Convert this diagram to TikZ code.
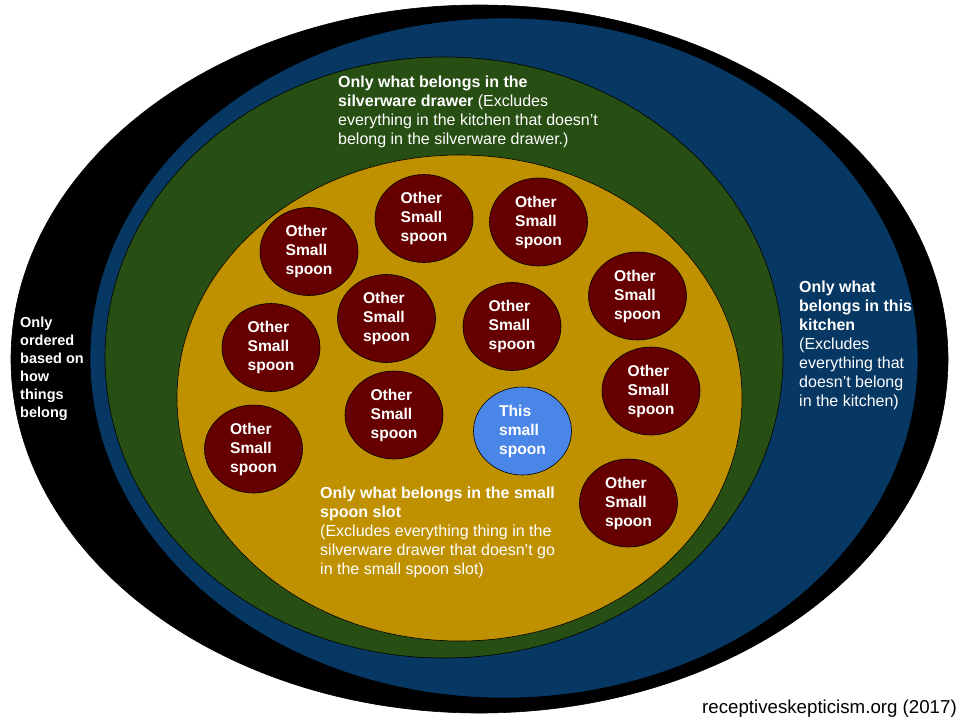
\documentclass[tikz,border=0pt]{standalone}
\usepackage{fontspec}
\setmainfont{Liberation Sans}
\usetikzlibrary{shapes.geometric}
\definecolor{roomblack}{HTML}{000000}
\definecolor{kitchenblue}{HTML}{073763}
\definecolor{drawergreen}{HTML}{274E13}
\definecolor{slotgold}{HTML}{BF9000}
\definecolor{spoonred}{HTML}{660000}
\definecolor{thisblue}{HTML}{4A86E8}
\tikzset{
	spoon/.style={ellipse, draw=black, line width=0.6pt, fill=spoonred, minimum width=98pt, minimum height=88pt, inner sep=0pt, text=white, align=left, font=\fontsize{15.6}{19}\selectfont\bfseries},
	note/.style={anchor=north west, inner sep=0pt, text=white, align=left, font=\fontsize{16}{19}\selectfont}
}

\begin{document}
\begin{tikzpicture}[x=1pt, y=-1pt]
			%%%%% START %%%%%
			
			\fill[white] (0, 0) rectangle (960, 720);
			\useasboundingbox (0, 0) rectangle (960, 720);
			
			\draw[line width=0.6pt, fill=roomblack] (479.5, 359) ellipse [x radius=468.5pt, y radius=354pt];
			\draw[line width=0.6pt, fill=kitchenblue] (504, 358) ellipse [x radius=414pt, y radius=340pt];
			\draw[line width=0.6pt, fill=drawergreen] (444, 357.5) ellipse [x radius=339pt, y radius=300.5pt];
			\draw[line width=0.6pt, fill=slotgold] (459.5, 398) ellipse [x radius=282.5pt, y radius=243pt];
			
			\node[note, font=\fontsize{14.5}{18}\selectfont\bfseries] (order) at (20, 316.5) {Only\\ordered\\based on\\how\\things\\belong};
			
			\node[note] (kitchen) at (799, 281) {\textbf{Only what}\\\textbf{belongs in this}\\\textbf{kitchen}\\(Excludes\\everything that\\doesn’t belong\\in the kitchen)};
			
			\node[note] (drawer) at (338, 76) {\textbf{Only what belongs in the}\\\textbf{silverware drawer} (Excludes\\everything in the kitchen that doesn’t\\belong in the silverware drawer.)};
			
			\node[note] (slot) at (320, 487) {\textbf{Only what belongs in the small}\\\textbf{spoon slot}\\(Excludes everything thing in the\\silverware drawer that doesn’t go\\in the small spoon slot)};
			
			\node[spoon] (o1) at (309, 251.5) {Other\\Small\\spoon};
			\node[spoon] (o2) at (424, 218.5) {Other\\Small\\spoon};
			\node[spoon] (o3) at (538.5, 222) {Other\\Small\\spoon};
			\node[spoon] (o4) at (637.5, 296) {Other\\Small\\spoon};
			\node[spoon] (o5) at (386.5, 318.5) {Other\\Small\\spoon};
			\node[spoon] (o6) at (512, 326.5) {Other\\Small\\spoon};
			\node[spoon] (o7) at (271, 347.5) {Other\\Small\\spoon};
			\node[spoon] (o8) at (394, 415) {Other\\Small\\spoon};
			\node[spoon] (o9) at (651, 391) {Other\\Small\\spoon};
			\node[spoon] (o10) at (253.5, 449) {Other\\Small\\spoon};
			\node[spoon] (o11) at (628.5, 503) {Other\\Small\\spoon};
			\node[spoon, fill=thisblue] (this) at (522.5, 431) {This\\small\\spoon};
			
			\node[anchor=base east, inner sep=0pt, font=\fontsize{18.7}{22}\selectfont] (credit) at (957, 713) {receptiveskepticism.org (2017)};
			
			%%%%% END %%%%%
\end{tikzpicture}
\end{document}
